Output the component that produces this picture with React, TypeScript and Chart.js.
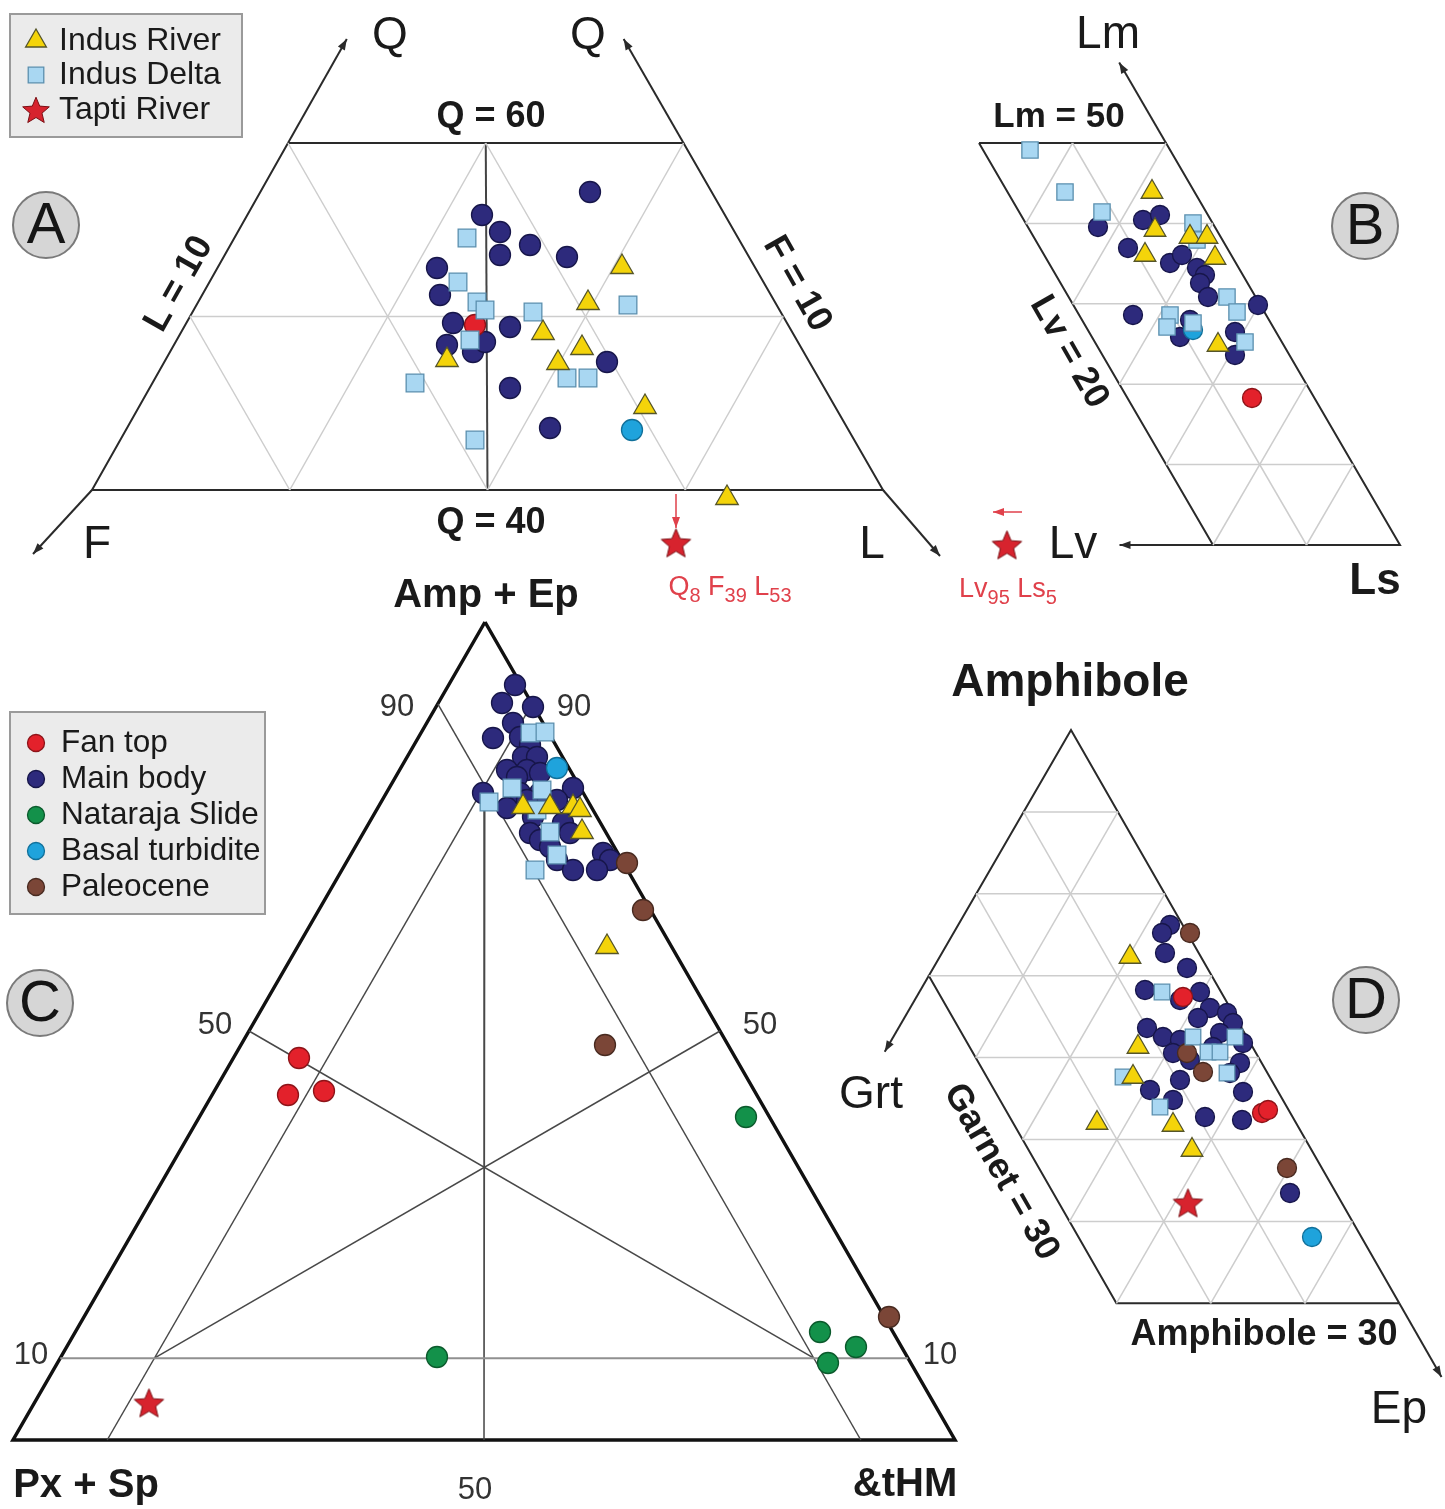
import React, { useEffect, useRef } from 'react';
import { Chart, registerables } from 'chart.js';

Chart.register(...registerables);

const W = 1445;
const H = 1509;
const FONT = '"Liberation Sans", Arial, Helvetica, sans-serif';

// ================= Sample positions (figure units) =================
// Panel A – Q F L (window Q = 40–60)
const qflMainBody = [[590,192],[482,215],[500,232],[530,245],[500,255],[567,257],[437,268],[440,295],[453,323],[510,327],[447,345],[473,352],[485,342],[607,362],[510,388],[550,428]];
const qflIndusDelta = [[467,238],[458,282],[477,302],[485,310],[533,312],[628,305],[470,340],[415,383],[567,378],[588,378],[475,440]];
const qflIndusRiver = [[622,267],[588,303],[543,333],[582,348],[558,363],[447,360],[645,407],[727,498]];
const qflFanTop = [[475,325]];
const qflBasal = [[632,430]];
const qflTapti = [[676,543]];

// Panel B – Lm Lv Ls
const lithMainBody = [[1098,227],[1143,220],[1160,215],[1128,248],[1170,263],[1182,255],[1197,268],[1205,275],[1200,283],[1208,297],[1258,305],[1133,315],[1190,320],[1180,337],[1235,332],[1235,355]];
const lithIndusDelta = [[1030,150],[1065,192],[1102,212],[1193,223],[1197,240],[1227,297],[1237,312],[1170,315],[1167,327],[1193,323],[1245,342]];
const lithIndusRiver = [[1152,192],[1155,230],[1190,237],[1207,237],[1145,255],[1215,258],[1218,345]];
const lithBasal = [[1193,330]];
const lithFanTop = [[1252,398]];
const lithTapti = [[1007,545]];

// Panel C – Amp+Ep / Px+Sp / &tHM
const hmMainBody = [[515,685],[502,703],[533,707],[513,723],[493,738],[520,737],[530,745],[523,757],[537,757],[507,770],[527,770],[540,773],[517,777],[573,788],[483,793],[520,793],[540,793],[527,800],[557,800],[507,808],[533,817],[563,823],[530,833],[570,833],[540,840],[550,847],[603,853],[557,860],[610,860],[573,870],[597,870]];
const hmIndusDelta = [[530,733],[545,732],[512,788],[542,790],[489,802],[537,810],[550,832],[557,855],[535,870]];
const hmIndusRiver = [[523,807],[550,807],[573,807],[580,810],[582,832],[607,947]];
const hmBasal = [[557,768]];
const hmPaleocene = [[627,863],[643,910],[605,1045],[889,1317]];
const hmNataraja = [[437,1357],[746,1117],[820,1332],[856,1347],[828,1363]];
const hmFanTop = [[299,1058],[288,1095],[324,1091]];
const hmTapti = [[149,1403]];

// Panel D – Amphibole / Grt / Ep
const agMainBody = [[1170,925],[1162,933],[1165,953],[1187,968],[1145,990],[1200,992],[1180,1000],[1210,1008],[1227,1013],[1198,1018],[1233,1023],[1147,1028],[1220,1033],[1163,1037],[1180,1040],[1243,1043],[1213,1047],[1173,1053],[1190,1060],[1240,1063],[1230,1073],[1180,1080],[1150,1090],[1243,1092],[1173,1100],[1205,1117],[1242,1120],[1290,1193]];
const agIndusDelta = [[1162,992],[1193,1037],[1208,1052],[1220,1052],[1235,1037],[1227,1073],[1123,1077],[1160,1107]];
const agIndusRiver = [[1130,957],[1138,1047],[1133,1077],[1097,1123],[1173,1125],[1192,1150]];
const agPaleocene = [[1190,933],[1187,1053],[1203,1072],[1287,1168]];
const agFanTop = [[1183,997],[1262,1113],[1268,1110]];
const agBasal = [[1312,1237]];
const agTapti = [[1188,1203]];

// Legend entries
const legend1Names = ['Indus River', 'Indus Delta', 'Tapti River'];
const legend2Names = ['Fan top', 'Main body', 'Nataraja Slide', 'Basal turbidite', 'Paleocene'];

// ================= Ternary frames and grid compositions (percent) =================
const frameA = { o: [-497.75, 1184], ua: [980, -1735], ub: [1977.5, 0] }; // a = Q, b = L
const frameB = { o: [1400, 545], ua: [-468, -804], ub: [-935, 0] };       // a = Lm, b = Lv
const frameC = { o: [13, 1440], ua: [472, -818], ub: [942, 0] };          // a = Amp+Ep, b = &tHM
const frameD = { o: [1540, 1549], ua: [-469, -819], ub: [-943, 0] };      // a = Amp, b = Grt

const outlineA = [[60,10],[60,30],[40,50],[40,10],[60,10]];
const medianA = [[40,30,60,20]];
const gridA = [[50,10,50,40],[40,20,60,20],[40,30,60,30],[40,40,50,40],[40,40,60,20],[40,30,60,10],[40,20,50,10]];
const arrowsA = [[60,10,66,10],[60,30,66,24]];

const outlineB = [[50,20],[50,0],[0,0],[0,20],[50,20]];
const gridB = [[10,20,10,0],[20,20,20,0],[30,20,30,0],[40,20,40,0],[50,10,0,10],[40,20,50,10],[30,20,50,0],[20,20,40,0],[10,20,30,0],[0,20,20,0],[0,10,10,0]];
const arrowsB = [[50,0,60,0],[0,20,0,30]];

const outlineC = [[100,0],[0,0],[0,100],[100,0]];
const innerC = [[90,0,0,90],[90,10,0,10],[80,10,0,50],[50,0,10,80],[50,50,10,10]];
const amp10C = [[10,0,10,90]];

const outlineD = [[30,0],[30,30],[70,30],[100,0],[30,0]];
const gridD = [[90,10,90,0],[80,20,80,0],[70,30,70,0],[60,30,60,0],[50,30,50,0],[40,30,40,0],[90,10,30,10],[80,20,30,20],[90,0,60,30],[80,0,50,30],[70,0,40,30],[60,0,30,30],[50,0,30,20],[40,0,30,10]];
const arrowsD = [[70,30,60.7,39.3],[30,0,21,0]];

// plain arrows (figure units)
const plainArrows = [[92,490,33,554],[883,490,940,556]];
const redArrows = [[676,494,676,528],[1022,512,993,512]];

// ================= helpers =================
function tern(f: any, a: number, b: number) {
  return { x: f.o[0] + (a / 100) * f.ua[0] + (b / 100) * f.ub[0], y: f.o[1] + (a / 100) * f.ua[1] + (b / 100) * f.ub[1] };
}
const xy = (arr: number[][]) => arr.map((p) => ({ x: p[0], y: p[1] }));

const lineSpecs: any[] = [];
const arrowSpecs: any[] = [];
function addSegs(f: any, segs: number[][], color: string, width: number) {
  segs.forEach((s) => lineSpecs.push({ pts: [tern(f, s[0], s[1]), tern(f, s[2], s[3])], color, width }));
}
function addPoly(f: any, pts: number[][], color: string, width: number) {
  lineSpecs.push({ pts: pts.map((p) => tern(f, p[0], p[1])), color, width });
}
function addTernArrows(f: any, segs: number[][], color: string, width: number) {
  segs.forEach((s) => {
    const p1 = tern(f, s[0], s[1]);
    const p2 = tern(f, s[2], s[3]);
    lineSpecs.push({ pts: [p1, p2], color, width });
    arrowSpecs.push({ p1, p2, color });
  });
}
function addPlainArrows(segs: number[][], color: string, width: number) {
  segs.forEach((s) => {
    const p1 = { x: s[0], y: s[1] };
    const p2 = { x: s[2], y: s[3] };
    lineSpecs.push({ pts: [p1, p2], color, width });
    arrowSpecs.push({ p1, p2, color });
  });
}

const GRID = '#cdcdcd';
const DARK = '#2a2a2a';
addSegs(frameA, gridA, GRID, 1.5);
addSegs(frameA, medianA, '#444', 2);
addPoly(frameA, outlineA, DARK, 2);
addTernArrows(frameA, arrowsA, DARK, 2);
addPlainArrows(plainArrows, DARK, 2);

addSegs(frameB, gridB, GRID, 1.5);
addPoly(frameB, outlineB, DARK, 2);
addTernArrows(frameB, arrowsB, DARK, 2);

addSegs(frameC, amp10C, '#909090', 2);
addSegs(frameC, innerC, '#484848', 1.5);
addPoly(frameC, outlineC, '#111', 3.5);

addSegs(frameD, gridD, GRID, 1.5);
addPoly(frameD, outlineD, DARK, 2);
addTernArrows(frameD, arrowsD, DARK, 2);

const RED_TXT = '#e0414b';
addPlainArrows(redArrows, RED_TXT, 1.5);

// colours
const NAVY = '#2d2a7c', NAVY_B = '#17164a';
const YEL = '#f4d40a', YEL_B = '#55552a';
const LBL = '#a9d7f2', LBL_B = '#5b8fae';
const RED = '#e3212b', RED_B = '#8e1419';
const GRN = '#13914a', GRN_B = '#0b5a2c';
const CYN = '#1fa3dc', CYN_B = '#11709a';
const BRN = '#7b4637', BRN_B = '#482a20';

// legend marker positions (figure units)
const legend1Marks = [[36, 41], [36, 75], [36, 110]];
const legend2Marks = [[36, 743], [36, 779], [36, 815], [36, 851], [36, 887]];

const pointSpecs: any[] = [
  { d: qflMainBody, s: 'circle', r: 10.5, f: NAVY, b: NAVY_B, o: 9 },
  { d: lithMainBody, s: 'circle', r: 9.5, f: NAVY, b: NAVY_B, o: 9 },
  { d: hmMainBody, s: 'circle', r: 10.5, f: NAVY, b: NAVY_B, o: 9 },
  { d: agMainBody, s: 'circle', r: 9.5, f: NAVY, b: NAVY_B, o: 9 },
  { d: qflBasal, s: 'circle', r: 10.5, f: CYN, b: CYN_B, o: 8 },
  { d: lithBasal, s: 'circle', r: 9.5, f: CYN, b: CYN_B, o: 8 },
  { d: hmBasal, s: 'circle', r: 10.5, f: CYN, b: CYN_B, o: 8 },
  { d: agBasal, s: 'circle', r: 9.5, f: CYN, b: CYN_B, o: 8 },
  { d: hmPaleocene, s: 'circle', r: 10.5, f: BRN, b: BRN_B, o: 7 },
  { d: agPaleocene, s: 'circle', r: 9.5, f: BRN, b: BRN_B, o: 7 },
  { d: hmNataraja, s: 'circle', r: 10.5, f: GRN, b: GRN_B, o: 7 },
  { d: qflFanTop, s: 'circle', r: 10.5, f: RED, b: RED_B, o: 6 },
  { d: lithFanTop, s: 'circle', r: 9.5, f: RED, b: RED_B, o: 6 },
  { d: hmFanTop, s: 'circle', r: 10.5, f: RED, b: RED_B, o: 6 },
  { d: agFanTop, s: 'circle', r: 9.5, f: RED, b: RED_B, o: 6 },
  { d: qflIndusDelta, s: 'rect', r: 12.5, f: LBL, b: LBL_B, o: 5 },
  { d: lithIndusDelta, s: 'rect', r: 11.5, f: LBL, b: LBL_B, o: 5 },
  { d: hmIndusDelta, s: 'rect', r: 12.5, f: LBL, b: LBL_B, o: 5 },
  { d: agIndusDelta, s: 'rect', r: 11, f: LBL, b: LBL_B, o: 5 },
  { d: qflIndusRiver, s: 'triangle', r: 13, f: YEL, b: YEL_B, o: 4 },
  { d: lithIndusRiver, s: 'triangle', r: 12.5, f: YEL, b: YEL_B, o: 4 },
  { d: hmIndusRiver, s: 'triangle', r: 13, f: YEL, b: YEL_B, o: 4 },
  { d: agIndusRiver, s: 'triangle', r: 12.5, f: YEL, b: YEL_B, o: 4 },
  { d: qflTapti, s: 'star', r: 12, o: 3 },
  { d: lithTapti, s: 'star', r: 12, o: 3 },
  { d: hmTapti, s: 'star', r: 12, o: 3 },
  { d: agTapti, s: 'star', r: 12, o: 3 },
  // legends
  { d: [legend1Marks[0]], s: 'triangle', r: 12, f: YEL, b: YEL_B, o: 1 },
  { d: [legend1Marks[1]], s: 'rect', r: 11, f: LBL, b: LBL_B, o: 1 },
  { d: [legend1Marks[2]], s: 'starSmall', r: 12, o: 1 },
  { d: [legend2Marks[0]], s: 'circle', r: 8.5, f: RED, b: RED_B, o: 1 },
  { d: [legend2Marks[1]], s: 'circle', r: 8.5, f: NAVY, b: NAVY_B, o: 1 },
  { d: [legend2Marks[2]], s: 'circle', r: 8.5, f: GRN, b: GRN_B, o: 1 },
  { d: [legend2Marks[3]], s: 'circle', r: 8.5, f: CYN, b: CYN_B, o: 1 },
  { d: [legend2Marks[4]], s: 'circle', r: 8.5, f: BRN, b: BRN_B, o: 1 },
];

// text annotations
const labels: any[] = [
  { t: 'Q', x: 390, y: 36, size: 46 },
  { t: 'Q', x: 588, y: 36, size: 46 },
  { t: 'F', x: 97, y: 545, size: 46 },
  { t: 'L', x: 872, y: 545, size: 46 },
  { t: 'Q = 60', x: 491, y: 117, size: 36, bold: true },
  { t: 'Q = 40', x: 491, y: 523, size: 36, bold: true },
  { t: 'L = 10', x: 179, y: 284, size: 36, bold: true, rot: -60.5 },
  { t: 'F = 10', x: 797, y: 284, size: 36, bold: true, rot: 60.4 },
  { t: 'Lm', x: 1108, y: 35, size: 46 },
  { t: 'Lm = 50', x: 1059, y: 117, size: 35, bold: true },
  { t: 'Lv = 20', x: 1069, y: 352, size: 36, bold: true, rot: 60.1 },
  { t: 'Lv', x: 1073, y: 545, size: 46 },
  { t: 'Ls', x: 1375, y: 582, size: 44, bold: true },
  { t: 'Amp + Ep', x: 486, y: 596, size: 40, bold: true },
  { t: '90', x: 397, y: 707, size: 31, color: '#333' },
  { t: '90', x: 574, y: 707, size: 31, color: '#333' },
  { t: '50', x: 215, y: 1025, size: 31, color: '#333' },
  { t: '50', x: 760, y: 1025, size: 31, color: '#333' },
  { t: '10', x: 31, y: 1355, size: 31, color: '#333' },
  { t: '10', x: 940, y: 1355, size: 31, color: '#333' },
  { t: '50', x: 475, y: 1490, size: 31, color: '#333' },
  { t: 'Px + Sp', x: 86, y: 1486, size: 40, bold: true },
  { t: '&tHM', x: 905, y: 1485, size: 40, bold: true },
  { t: 'Amphibole', x: 1070, y: 683, size: 46, bold: true },
  { t: 'Grt', x: 871, y: 1095, size: 46 },
  { t: 'Ep', x: 1399, y: 1410, size: 46 },
  { t: 'Garnet = 30', x: 1001, y: 1172, size: 36, bold: true, rot: 60.2 },
  { t: 'Amphibole = 30', x: 1264, y: 1335, size: 36, bold: true },
];
legend1Names.forEach((n, i) => labels.push({ t: n, x: 59, y: legend1Marks[i][1], size: 32, align: 'left' }));
legend2Names.forEach((n, i) => labels.push({ t: n, x: 61, y: legend2Marks[i][1], size: 31.5, align: 'left' }));

const richLabels: any[] = [
  { x: 730, y: 585, parts: [{ t: 'Q' }, { t: '8', sub: true }, { t: ' F' }, { t: '39', sub: true }, { t: ' L' }, { t: '53', sub: true }] },
  { x: 1008, y: 587, parts: [{ t: 'Lv' }, { t: '95', sub: true }, { t: ' Ls' }, { t: '5', sub: true }] },
];

const badges = [
  { t: 'A', x: 46, y: 225 },
  { t: 'B', x: 1365, y: 226 },
  { t: 'C', x: 40, y: 1003 },
  { t: 'D', x: 1366, y: 1000 },
];

const legendBoxes = [
  { x0: 10, y0: 14, x1: 242, y1: 137 },
  { x0: 10, y0: 712, x1: 265, y1: 914 },
];

function makeStar(size: number, fill: string, stroke: string) {
  const c = document.createElement('canvas');
  c.width = size;
  c.height = size;
  const g = c.getContext('2d')!;
  const cx = size / 2;
  const cy = size / 2 + size * 0.04;
  const R = size / 2 - 1;
  const r = R * 0.45;
  g.beginPath();
  for (let i = 0; i < 10; i++) {
    const ang = -Math.PI / 2 + (i * Math.PI) / 5;
    const rad = i % 2 === 0 ? R : r;
    g.lineTo(cx + rad * Math.cos(ang), cy + rad * Math.sin(ang));
  }
  g.closePath();
  g.fillStyle = fill;
  g.fill();
  g.strokeStyle = stroke;
  g.lineWidth = 1;
  g.stroke();
  return c;
}

const decor = {
  id: 'decor',
  beforeDatasetsDraw(chart: any) {
    const ctx = chart.ctx;
    const sx = (v: number) => chart.scales.x.getPixelForValue(v);
    const sy = (v: number) => chart.scales.y.getPixelForValue(v);
    ctx.save();
    legendBoxes.forEach((b) => {
      const x0 = sx(b.x0), y0 = sy(b.y0), x1 = sx(b.x1), y1 = sy(b.y1);
      ctx.fillStyle = '#ebebeb';
      ctx.fillRect(x0, y0, x1 - x0, y1 - y0);
      ctx.strokeStyle = '#9a9a9a';
      ctx.lineWidth = 2;
      ctx.strokeRect(x0, y0, x1 - x0, y1 - y0);
    });
    ctx.restore();
  },
  afterDatasetsDraw(chart: any) {
    const ctx = chart.ctx;
    const sx = (v: number) => chart.scales.x.getPixelForValue(v);
    const sy = (v: number) => chart.scales.y.getPixelForValue(v);
    ctx.save();
    // arrow heads
    arrowSpecs.forEach((a) => {
      const x1 = sx(a.p1.x), y1 = sy(a.p1.y), x2 = sx(a.p2.x), y2 = sy(a.p2.y);
      const ang = Math.atan2(y2 - y1, x2 - x1);
      const len = 11, wid = 4;
      ctx.fillStyle = a.color;
      ctx.beginPath();
      ctx.moveTo(x2, y2);
      ctx.lineTo(x2 - len * Math.cos(ang) + wid * Math.sin(ang), y2 - len * Math.sin(ang) - wid * Math.cos(ang));
      ctx.lineTo(x2 - len * Math.cos(ang) - wid * Math.sin(ang), y2 - len * Math.sin(ang) + wid * Math.cos(ang));
      ctx.closePath();
      ctx.fill();
    });
    // badges
    badges.forEach((b) => {
      const x = sx(b.x), y = sy(b.y);
      ctx.beginPath();
      ctx.arc(x, y, 33, 0, Math.PI * 2);
      ctx.fillStyle = '#d6d6d6';
      ctx.fill();
      ctx.lineWidth = 2;
      ctx.strokeStyle = '#7a7a7a';
      ctx.stroke();
      ctx.fillStyle = '#151515';
      ctx.font = `58px ${FONT}`;
      ctx.textAlign = 'center';
      ctx.textBaseline = 'middle';
      ctx.fillText(b.t, x, y + 2);
    });
    // labels
    labels.forEach((l) => {
      ctx.save();
      ctx.translate(sx(l.x), sy(l.y));
      if (l.rot) ctx.rotate((l.rot * Math.PI) / 180);
      ctx.font = `${l.bold ? 'bold ' : ''}${l.size}px ${FONT}`;
      ctx.fillStyle = l.color || '#1a1a1a';
      ctx.textAlign = l.align || 'center';
      ctx.textBaseline = 'middle';
      ctx.fillText(l.t, 0, 0);
      ctx.restore();
    });
    // rich (subscript) labels
    richLabels.forEach((r) => {
      const main = 27, sub = 20;
      let total = 0;
      r.parts.forEach((p: any) => {
        ctx.font = `${p.sub ? sub : main}px ${FONT}`;
        total += ctx.measureText(p.t).width;
      });
      let x = sx(r.x) - total / 2;
      const base = sy(r.y) + main * 0.36;
      ctx.fillStyle = RED_TXT;
      ctx.textAlign = 'left';
      ctx.textBaseline = 'alphabetic';
      r.parts.forEach((p: any) => {
        ctx.font = `${p.sub ? sub : main}px ${FONT}`;
        ctx.fillText(p.t, x, p.sub ? base + 7 : base);
        x += ctx.measureText(p.t).width;
      });
    });
    ctx.restore();
  },
};

export default function App() {
  const ref = useRef<HTMLCanvasElement>(null);
  useEffect(() => {
    const canvas = ref.current;
    if (!canvas) return;
    const star = makeStar(33, '#d7232e', '#7a0f14');
    const starSmall = makeStar(30, '#d7232e', '#7a0f14');
    const datasets: any[] = [];
    lineSpecs.forEach((l) =>
      datasets.push({
        data: l.pts,
        showLine: true,
        borderColor: l.color,
        borderWidth: l.width,
        pointRadius: 0,
        pointHoverRadius: 0,
        fill: false,
        tension: 0,
        order: 100,
        clip: false,
      })
    );
    pointSpecs.forEach((p) =>
      datasets.push({
        data: xy(p.d),
        showLine: false,
        pointStyle: p.s === 'star' ? star : p.s === 'starSmall' ? starSmall : p.s,
        pointRadius: p.r,
        pointHoverRadius: p.r,
        pointBackgroundColor: p.f || '#d7232e',
        pointBorderColor: p.b || '#7a0f14',
        pointBorderWidth: 1.3,
        order: p.o,
        clip: false,
      })
    );
    const chart = new Chart(canvas, {
      type: 'scatter',
      data: { datasets },
      options: {
        responsive: false,
        animation: false,
        events: [],
        layout: { padding: 0, autoPadding: false },
        plugins: { legend: { display: false }, tooltip: { enabled: false } },
        scales: {
          x: { type: 'linear', min: 0, max: W, display: false },
          y: { type: 'linear', min: 0, max: H, reverse: true, display: false },
        },
      },
      plugins: [decor],
    } as any);
    return () => chart.destroy();
  }, []);
  return (
    <div style={{ position: 'absolute', left: 0, top: 0, width: W, height: H, background: '#fff', overflow: 'hidden' }}>
      <canvas ref={ref} width={W} height={H} style={{ display: 'block' }} />
    </div>
  );
}
